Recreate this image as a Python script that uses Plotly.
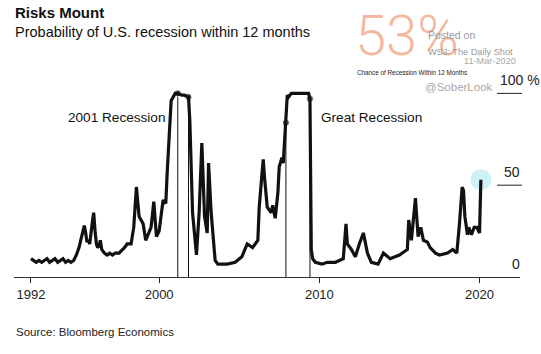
import plotly.graph_objects as go

# ---- data ----
months = [
    "1992-01", "1992-03", "1992-05", "1992-07", "1992-09", "1992-11",
    "1993-01", "1993-03", "1993-05", "1993-07", "1993-09", "1993-11",
    "1994-01", "1994-03", "1994-05", "1994-07", "1994-09", "1994-11",
    "1995-01", "1995-03", "1995-05", "1995-06", "1995-07", "1995-08", "1995-09", "1995-11", "1995-12",
    "1996-01", "1996-02", "1996-03", "1996-04", "1996-05", "1996-06", "1996-08", "1996-10", "1996-12",
    "1997-02", "1997-04", "1997-07", "1997-11",
    "1998-01", "1998-04", "1998-06", "1998-08", "1998-10",
    "1999-01", "1999-03", "1999-07", "1999-09", "1999-11",
    "2000-01", "2000-04", "2000-06", "2000-07", "2000-09", "2000-10",
    "2001-01", "2001-03", "2001-06", "2001-08", "2001-11", "2001-12",
    "2002-02", "2002-04", "2002-05", "2002-07", "2002-09", "2002-11",
    "2003-01", "2003-02", "2003-04", "2003-07", "2003-09",
    "2004-04", "2004-10",
    "2005-03", "2005-07", "2005-11",
    "2006-03", "2006-04", "2006-07", "2006-08", "2006-10",
    "2007-01", "2007-02", "2007-04", "2007-06", "2007-07", "2007-09", "2007-10", "2007-11", "2007-12",
    "2008-01", "2008-02", "2008-04", "2008-09", "2009-02", "2009-05", "2009-06",
    "2009-07", "2009-08", "2009-10",
    "2010-03", "2010-07", "2011-01", "2011-04", "2011-07", "2011-09", "2011-10",
    "2012-01", "2012-04", "2012-07", "2012-10",
    "2013-01", "2013-04", "2013-09",
    "2014-01", "2014-06", "2015-01", "2015-07", "2015-08", "2015-10",
    "2016-01", "2016-03", "2016-05", "2016-07", "2016-10", "2016-12",
    "2017-04", "2017-07", "2018-01", "2018-05", "2018-08", "2018-10", "2018-12",
    "2019-01", "2019-02", "2019-04", "2019-05", "2019-07", "2019-09", "2019-11",
    "2020-01", "2020-02",
]
probability = [
    10, 9, 8, 9, 8, 9,
    10, 8, 9, 10, 8, 9,
    10, 8, 9, 8, 9, 12,
    16, 22, 28, 24, 19, 20, 18, 30, 35,
    25, 18, 16, 17, 20, 15, 13, 12, 13,
    12, 13, 13, 16,
    18, 18, 27, 49, 33,
    29, 20, 27, 41, 22,
    25, 42, 40, 56, 82, 96,
    100, 100, 99, 99, 98, 85,
    35, 16, 12, 35, 73, 33,
    24, 62, 35, 9, 7,
    7, 8,
    11, 18, 16,
    20, 38, 64, 54, 38,
    35, 39, 32, 46, 60, 65, 62, 75, 84,
    99, 98, 100, 100, 100, 100, 97,
    15, 10, 8,
    7, 8, 8, 9, 10, 29, 18,
    15, 11, 18, 24,
    13, 8, 7,
    13, 10, 12, 15, 31, 20,
    43, 22, 27, 20, 19, 16,
    13, 12, 13, 15, 13, 29, 49,
    47, 33, 23, 27, 23, 27, 27,
    24, 53,
]
recession_marks = ["2001-03", "2001-11", "2007-12", "2009-06"]
recession_labels = ["2001 Recession", "Great Recession"]
x_ticks = ["1992", "2000", "2010", "2020"]
y_ticks = [0, 50, 100]

# ---- layout geometry ----
W, H = 541, 354
L, R, T, B = 14, 21, 75, 77
PW, PH = W - L - R, H - T - B


def px(xp):
    return (xp - L) / PW


def py(yp):
    return (H - B - yp) / PH


FONT = "Liberation Sans, Arial, sans-serif"
fig = go.Figure()

# glow behind the latest reading
fig.add_trace(go.Scatter(
    x=[months[-1]], y=[probability[-1]], mode="markers",
    marker=dict(size=21, color="rgba(165,233,238,0.55)", line=dict(width=0)),
    hoverinfo="skip", showlegend=False, cliponaxis=False))

# recession start/end markers
for m in recession_marks:
    v = probability[months.index(m)]
    fig.add_trace(go.Scatter(
        x=[m, m], y=[0, v], mode="lines+markers",
        line=dict(color="#111", width=1),
        marker=dict(size=[0, 7], color="#111"),
        hoverinfo="skip", showlegend=False, cliponaxis=False))

fig.add_trace(go.Scatter(
    x=months, y=probability, mode="lines",
    line=dict(color="#111", width=3.2),
    showlegend=False, cliponaxis=False))

fig.update_xaxes(
    type="date", range=["1990-12-10", "2022-07-12"],
    tickvals=[t + "-01-01" for t in x_ticks], ticktext=x_ticks,
    ticks="outside", ticklen=5, tickcolor="#222", tickwidth=1,
    showline=True, linecolor="#333", linewidth=1,
    showgrid=False, zeroline=False,
    tickfont=dict(family=FONT, size=13, color="#222"),
)
fig.update_yaxes(range=[0, 110], visible=False, showgrid=False, zeroline=False)

ann = []
shapes = []
for v in y_ticks:
    yy = 277 - v * PH / 110
    if v == max(y_ticks):
        ann.append(dict(text=f"{v} %", x=px(498), y=py(yy - 13), xanchor="left"))
    else:
        ann.append(dict(text=f"{v}", x=px(522), y=py(yy - 13), xanchor="right"))
    ann[-1].update(font=dict(family=FONT, size=14, color="#222"))
    if v > 0:
        shapes.append(dict(type="line", xref="paper", yref="y",
                           x0=px(497), x1=px(522), y0=v, y1=v,
                           line=dict(color="#222", width=1)))

texts = [
    ("Risks Mount", 13, 13, "left", 15, "#111", True),
    ("Probability of U.S. recession within 12 months", 13, 32, "left", 14.5, "#111", False),
    ("Source: Bloomberg Economics", 14, 332, "left", 11.5, "#222", False),
    (recession_labels[0], 168, 117, "right", 13.6, "#111", False),
    (recession_labels[1], 319, 117, "left", 13.6, "#111", False),
]
for t, x, y, xa, s, c, bold in texts:
    ann.append(dict(text=f"<b>{t}</b>" if bold else t, x=px(x), y=py(y), xanchor=xa,
                    font=dict(family=FONT, size=s, color=c)))

# watermark / stamp
ann.append(dict(text="53%", x=px(407), y=py(36), xanchor="center",
                font=dict(family="Roboto, Liberation Sans", size=56, color="rgba(240,160,125,0.75)", weight=300)))
for t, x, y, s, c in [
    ("Posted on", 426, 35, 10.5, "#9a9a9a"),
    ("WSJ: The Daily Shot", 426, 52, 9.2, "#9a9a9a"),
    ("11-Mar-2020", 462, 61, 9.2, "#aaaaaa"),
    ("Chance of Recession Within 12 Months", 355, 72, 6.3, "#222"),
    ("@SoberLook", 423, 87, 11.5, "#a8a8a8"),
]:
    ann.append(dict(text=t, x=px(x), y=py(y), xanchor="left",
                    font=dict(family=FONT, size=s, color=c)))

for a in ann:
    a.update(xref="paper", yref="paper", yanchor="middle", showarrow=False)

fig.update_layout(
    width=W, height=H, margin=dict(l=L, r=R, t=T, b=B),
    paper_bgcolor="white", plot_bgcolor="white",
    annotations=ann, shapes=shapes, showlegend=False,
)
fig.write_html("out.html")
